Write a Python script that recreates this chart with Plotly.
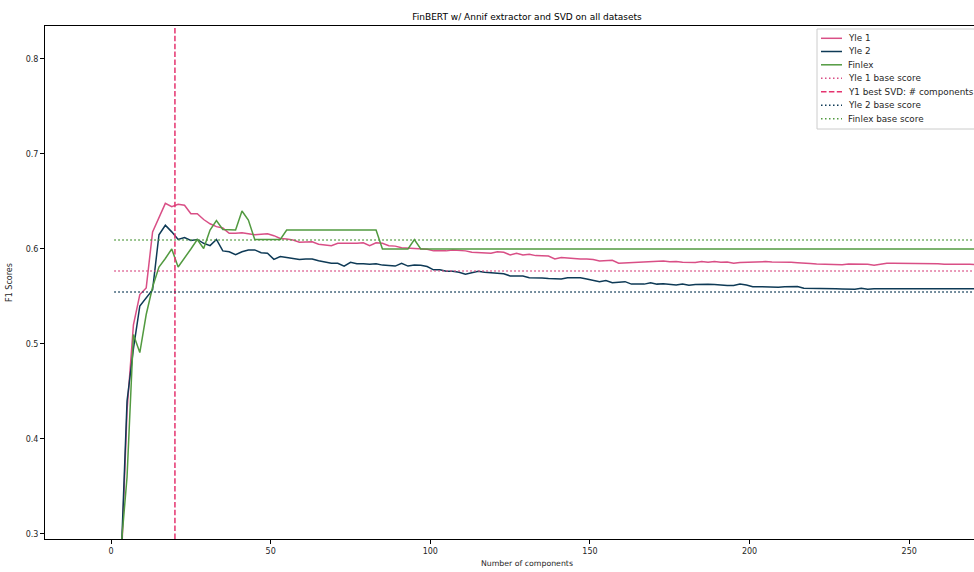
import plotly.graph_objects as go

# ---------------- data ----------------
components = list(range(1, 272, 2))

yle1 = [0.03, 0.25, 0.43, 0.52, 0.552, 0.559, 0.618, 0.634, 0.648, 0.6445,
        0.647, 0.646, 0.637, 0.637, 0.631, 0.6265, 0.6235, 0.622, 0.6165, 0.6165,
        0.617, 0.616, 0.615, 0.6155, 0.616, 0.614, 0.611, 0.6105, 0.6095, 0.607,
        0.607, 0.6075, 0.605, 0.604, 0.6035, 0.606, 0.606, 0.6055, 0.606, 0.6065,
        0.6035, 0.6065, 0.606, 0.6035, 0.603, 0.6014, 0.601, 0.6005, 0.600, 0.5996,
        0.598, 0.598, 0.598, 0.599, 0.5985, 0.598, 0.5965, 0.596, 0.5958, 0.5955,
        0.597, 0.5965, 0.5937, 0.5955, 0.5937, 0.5945, 0.593, 0.593, 0.5925, 0.5895,
        0.591, 0.5905, 0.5897, 0.5895, 0.5895, 0.589, 0.5874, 0.588, 0.588, 0.585,
        0.5853, 0.5856, 0.586, 0.5867, 0.5867, 0.5867, 0.5874, 0.5865, 0.5867, 0.586,
        0.586, 0.5858, 0.5867, 0.586, 0.5867, 0.586, 0.5862, 0.585, 0.5858, 0.5862,
        0.5865, 0.5867, 0.5867, 0.5862, 0.5862, 0.5867, 0.586, 0.5856, 0.5856, 0.5848,
        0.5842, 0.584, 0.5835, 0.5832, 0.5835, 0.5842, 0.5842, 0.5838, 0.5838, 0.583,
        0.584, 0.585, 0.585, 0.585, 0.5847, 0.5845, 0.5845, 0.5848, 0.585, 0.5845,
        0.584, 0.5842, 0.5845, 0.584, 0.5838, 0.5835]

yle2 = [0.03, 0.26, 0.44, 0.495, 0.540, 0.548, 0.557, 0.615, 0.625, 0.618,
        0.610, 0.612, 0.609, 0.610, 0.606, 0.6035, 0.610, 0.598, 0.597, 0.594,
        0.597, 0.599, 0.599, 0.596, 0.5955, 0.589, 0.592, 0.591, 0.590, 0.589,
        0.5895, 0.5895, 0.5875, 0.586, 0.585, 0.585, 0.582, 0.586, 0.5845, 0.5845,
        0.584, 0.5845, 0.583, 0.5825, 0.582, 0.585, 0.582, 0.583, 0.5828, 0.5815,
        0.578, 0.578, 0.5765, 0.5765, 0.5755, 0.5733, 0.5745, 0.5765, 0.5755, 0.575,
        0.5745, 0.574, 0.5716, 0.5716, 0.5716, 0.5698, 0.5698, 0.5695, 0.569, 0.5684,
        0.5684, 0.5698, 0.5698, 0.5698, 0.5684, 0.567, 0.5656, 0.5667, 0.5645, 0.565,
        0.5656, 0.563, 0.563, 0.563, 0.5645, 0.563, 0.5635, 0.563, 0.562, 0.563,
        0.5617, 0.5625, 0.563, 0.5628, 0.5625, 0.5617, 0.5615, 0.5615, 0.563, 0.562,
        0.5603, 0.5603, 0.560, 0.560, 0.5597, 0.5603, 0.5603, 0.5605, 0.5586, 0.5586,
        0.558, 0.558, 0.558, 0.558, 0.5578, 0.5575, 0.5575, 0.5586, 0.5575, 0.558,
        0.558, 0.558, 0.558, 0.558, 0.558, 0.558, 0.558, 0.558, 0.558, 0.558,
        0.5585, 0.5583, 0.5583, 0.5586, 0.558, 0.558]

finlex = ([0.03, 0.28, 0.36, 0.510, 0.491, 0.531, 0.560, 0.581, 0.590, 0.600,
           0.581, 0.590, 0.600, 0.610, 0.6005, 0.620, 0.630, 0.6205, 0.620, 0.620,
           0.640, 0.6305, 0.610, 0.610, 0.610, 0.610, 0.610]
          + [0.620] * 15
          + [0.600] * 5
          + [0.610]
          + [0.600] * 88)

yle1_base = 0.5768
yle2_base = 0.5547
finlex_base = 0.6095
best_components = 20

x_ticks = [0, 50, 100, 150, 200, 250]
y_ticks = [0.3, 0.4, 0.5, 0.6, 0.7, 0.8]
X_RANGE = [-20.7, 270.3]
Y_RANGE = [0.2947, 0.8347]

legend_labels = ["Yle 1", "Yle 2", "Finlex", "Yle 1 base score",
                 "Y1 best SVD: # components", "Yle 2 base score", "Finlex base score"]

PINK = "#d94f86"
BLUE = "#0e3a56"
GREEN = "#529a40"
RED = "#e5336f"
DOT = "1.5px,2.5px"
DASH = "5.5px,2.4px"

legend_styles = [(PINK, "solid"), (BLUE, "solid"), (GREEN, "solid"), (PINK, DOT),
                 (RED, DASH), (BLUE, DOT), (GREEN, DOT)]

fig = go.Figure()
fig.add_trace(go.Scatter(x=components, y=yle1, mode="lines", name=legend_labels[0],
                         line=dict(color=PINK, width=1.5)))
fig.add_trace(go.Scatter(x=components, y=yle2, mode="lines", name=legend_labels[1],
                         line=dict(color=BLUE, width=1.5)))
fig.add_trace(go.Scatter(x=components, y=finlex, mode="lines", name=legend_labels[2],
                         line=dict(color=GREEN, width=1.5)))
fig.add_trace(go.Scatter(x=components, y=[yle1_base] * len(components), mode="lines",
                         name=legend_labels[3], line=dict(color=PINK, width=1.5, dash=DOT)))
fig.add_trace(go.Scatter(x=[best_components, best_components], y=Y_RANGE, mode="lines",
                         name=legend_labels[4], line=dict(color=RED, width=1.5, dash=DASH)))
fig.add_trace(go.Scatter(x=components, y=[yle2_base] * len(components), mode="lines",
                         name=legend_labels[5], line=dict(color=BLUE, width=1.5, dash=DOT)))
fig.add_trace(go.Scatter(x=components, y=[finlex_base] * len(components), mode="lines",
                         name=legend_labels[6], line=dict(color=GREEN, width=1.5, dash=DOT)))

# ---- layout geometry (pixels) ----
W, H = 974, 572
L, R, T, B = 45, 0, 26, 33
PW, PH = W - L - R, H - T - B


def px(xp):
    return (xp - L) / PW


def py(yp):
    return (H - B - yp) / PH


# ---- custom matplotlib-like legend ----
shapes = [dict(type="rect", xref="paper", yref="paper",
               x0=px(817), x1=px(990), y0=py(129), y1=py(29),
               fillcolor="rgba(255,255,255,0.85)", line=dict(color="#cccccc", width=1),
               layer="above")]
annotations = []
row_y = [38.3, 51.5, 64.8, 78.2, 91.7, 105.2, 118.8]
for label, (col, dash), yy in zip(legend_labels, legend_styles, row_y):
    shapes.append(dict(type="line", xref="paper", yref="paper",
                       x0=px(821), x1=px(842), y0=py(yy), y1=py(yy),
                       line=dict(color=col, width=1.5, dash=dash), layer="above"))
    annotations.append(dict(text=label, xref="paper", yref="paper", x=px(846), y=py(yy),
                            xanchor="left", yanchor="middle", showarrow=False,
                            font=dict(size=8.8, color="#262626")))

# x-axis label, centred like the (wider, cropped) original axes
annotations.append(dict(text="Number of components", xref="paper", yref="paper",
                        x=px(527), y=py(563), xanchor="center", yanchor="middle",
                        showarrow=False, font=dict(size=7.8, color="#262626")))

FONT = "DejaVu Sans"
fig.update_layout(
    width=W, height=H,
    margin=dict(l=L, r=R, t=T, b=B, autoexpand=False),
    paper_bgcolor="white", plot_bgcolor="white",
    font=dict(family=FONT, size=8, color="#262626"),
    title=dict(text="FinBERT w/ Annif extractor and SVD on all datasets",
               x=px(527), xref="paper", xanchor="center",
               y=1 - 17 / H, yref="container", yanchor="middle",
               font=dict(size=9, color="black")),
    showlegend=False,
    shapes=shapes,
    annotations=annotations,
)
fig.update_xaxes(range=X_RANGE, tickvals=x_ticks, ticktext=[str(v) for v in x_ticks],
                 showgrid=False, zeroline=False, showline=True, linecolor="black",
                 linewidth=1, mirror=True, ticks="outside", ticklen=4, tickcolor="black",
                 automargin=False, tickfont=dict(size=8))
fig.update_yaxes(range=Y_RANGE, tickvals=y_ticks, ticktext=[f"{v:.1f}" for v in y_ticks],
                 showgrid=False, zeroline=False, showline=True, linecolor="black",
                 linewidth=1, ticks="outside", ticklen=4, tickcolor="black",
                 automargin=False, tickfont=dict(size=8),
                 title=dict(text="F1 Scores", standoff=11,
                            font=dict(size=8, color="#262626")))

fig.write_html("out.html",
               config={"displayModeBar": False},
               post_script="document.body.style.margin='0';"
                           "document.body.style.overflow='hidden';")
